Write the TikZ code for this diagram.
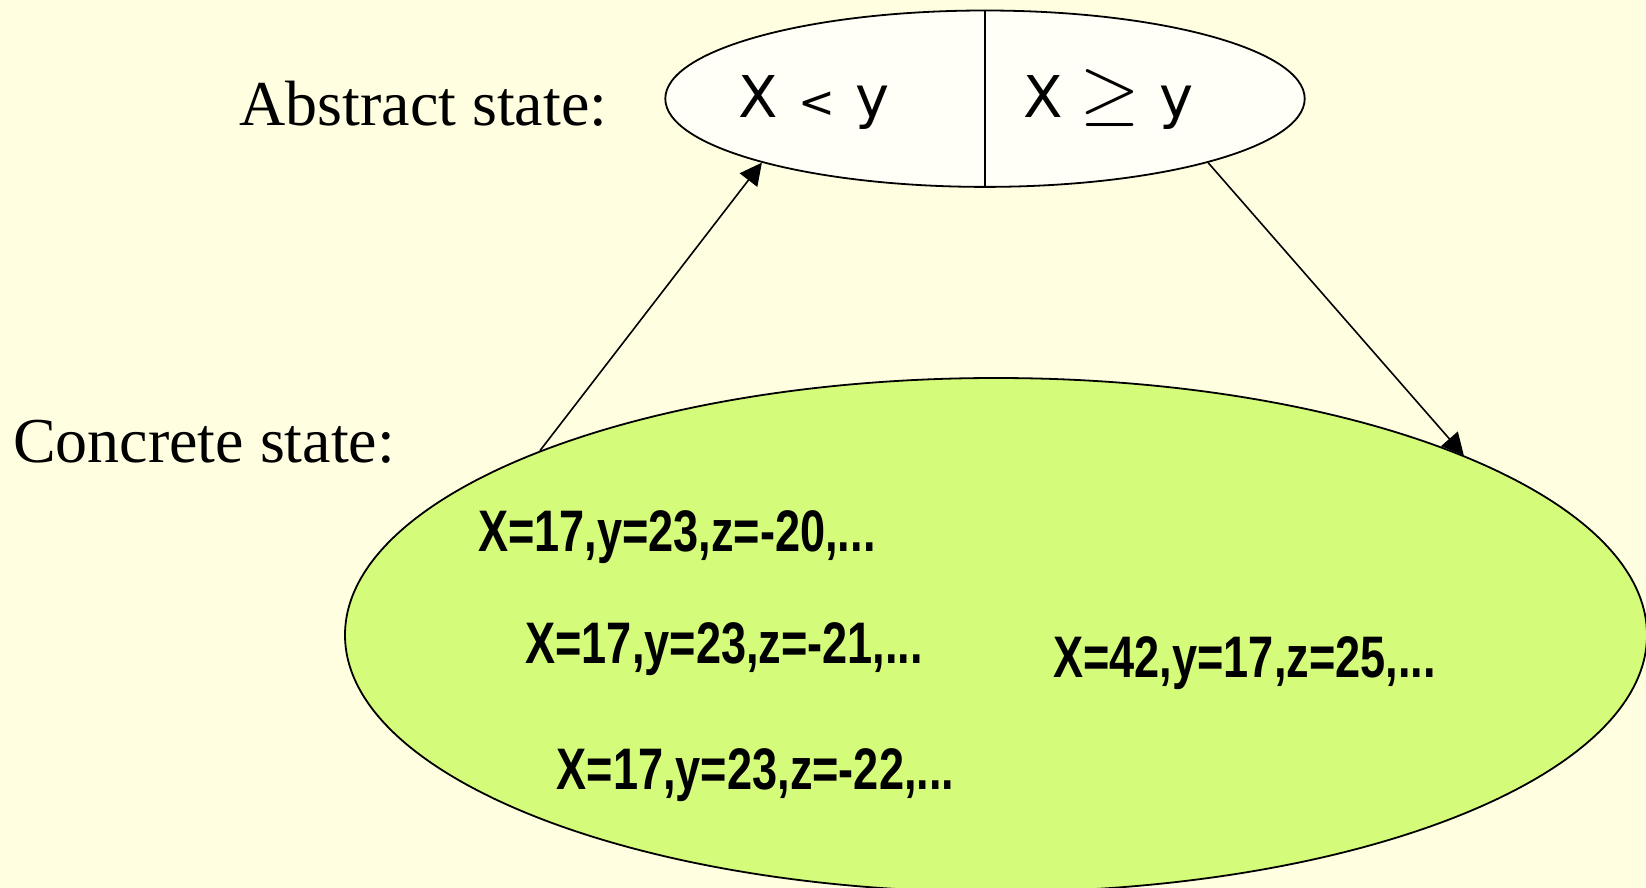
\documentclass[tikz,border=0pt]{standalone}
\usepackage{fontspec}
\setmainfont{Liberation Serif}
\newfontfamily\absfont{DejaVu Sans}
\newfontfamily\symfont{Latin Modern Math}
\newfontfamily\condfont[FakeStretch=0.77]{Liberation Sans}
\usetikzlibrary{shapes.geometric,arrows.meta}
\definecolor{bgcol}{RGB}{255,254,225}
\definecolor{greenfill}{RGB}{212,251,121}
\definecolor{topfill}{RGB}{255,255,247}
\tikzset{
  stateell/.style={ellipse, draw=black, line width=0.9pt, inner sep=0pt},
  label/.style={anchor=base west, inner sep=0pt, font=\fontsize{32pt}{38pt}\selectfont},
  abstxt/.style={anchor=base west, inner sep=0pt, font=\absfont\fontsize{28.8pt}{34pt}\selectfont},
  conctxt/.style={anchor=base west, inner sep=0pt, font=\condfont\bfseries\fontsize{29.3pt}{34pt}\selectfont},
  arr/.style={line width=0.8pt, -{Triangle[length=11pt,width=11pt]}}
}
\begin{document}
\begin{tikzpicture}[x=0.5pt,y=-0.5pt]
\fill[bgcol] (0,0) rectangle (1646,888);
\useasboundingbox (0,0) rectangle (1646,888);
\node[stateell, fill=topfill, minimum width=319.7pt, minimum height=88.2pt] (top) at (985,98.7) {};
\node[stateell, fill=greenfill, minimum width=651pt, minimum height=257pt] (big) at (996,635) {};
\draw[line width=0.9pt] (top.north) -- (top.south);
\draw[arr] (big.158.4) -- (top.196.5);
\draw[arr] (top.344.7) -- (big.21.6);
\node[label] (abslbl) at (239,126) {Abstract state:};
\node[label] (conclbl) at (12.6,462) {Concrete state:};
\node[abstxt] (lt) at (738,117.6) {X\hspace{0.35em}{\fontsize{22pt}{26pt}\selectfont<}\hspace{0.35em}y};
\node[abstxt] (ge) at (1023.5,117.6) {X\hspace{0.3em}{\symfont\fontsize{38pt}{42pt}\selectfont ≥}\hspace{0.35em}y};
\node[conctxt] (c1) at (477.6,551) {X=17,y=23,z=-20,...};
\node[conctxt] (c2) at (525,663.4) {X=17,y=23,z=-21,...};
\node[conctxt] (c3) at (1052.9,677) {X=42,y=17,z=25,...};
\node[conctxt] (c4) at (556.3,789.4) {X=17,y=23,z=-22,...};
\end{tikzpicture}
\end{document}
